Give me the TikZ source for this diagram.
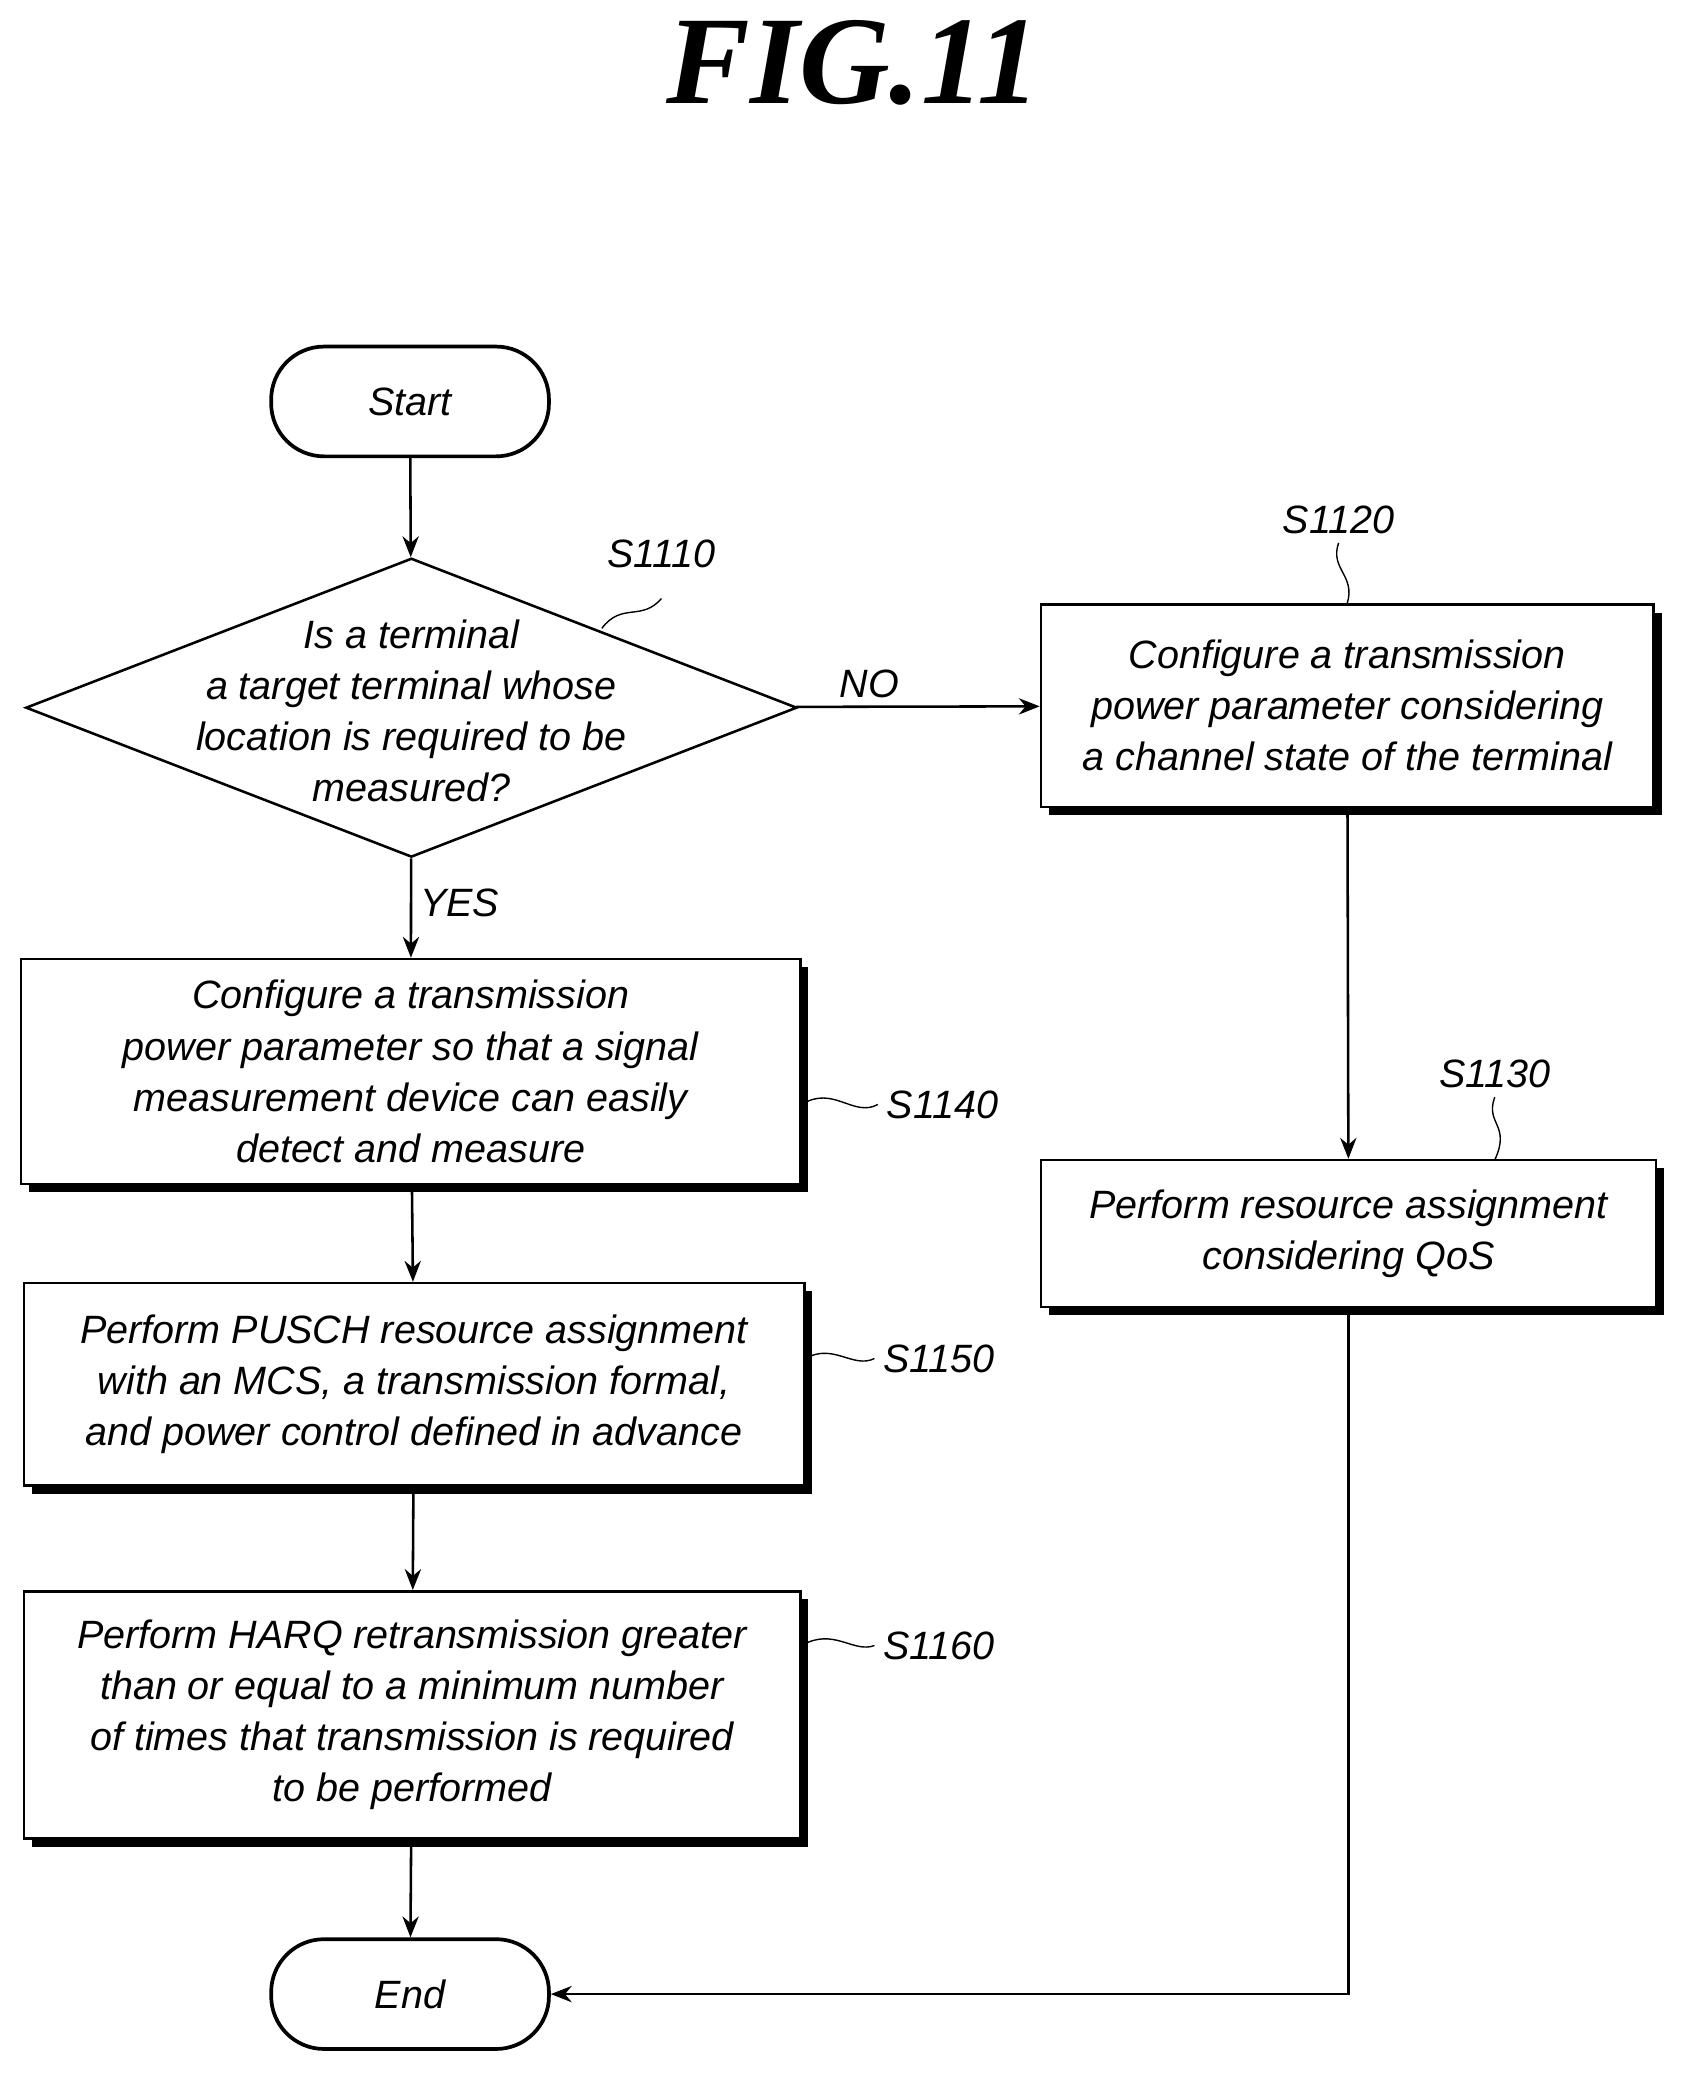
\documentclass[tikz,border=0pt]{standalone}
\usepackage{fontspec}
\setmainfont{Liberation Serif}
\setsansfont{Liberation Sans}
\usetikzlibrary{arrows.meta,shapes.geometric,shadows}

\begin{document}
\begin{tikzpicture}[>={Stealth[length=9pt,width=7pt]},line width=1.1pt]
            \tikzset{
              box/.style={rectangle,draw,fill=white,inner sep=2pt,align=center,
                font=\sffamily\itshape\fontsize{17}{22}\selectfont,
                drop shadow={fill=black,opacity=1,shadow xshift=3.5pt,shadow yshift=-3.5pt}},
              term/.style={rectangle,rounded corners=0.8cm,draw,line width=1.6pt,
                minimum width=4.2cm,minimum height=1.66cm,
                font=\sffamily\itshape\fontsize{17}{22}\selectfont},
              lbl/.style={font=\sffamily\itshape\fontsize{17}{22}\selectfont},
              squig/.style={line width=0.6pt}
            }
            \useasboundingbox (0,0) rectangle (25.6,-31.54);

            \node[font=\bfseries\itshape\fontsize{54}{54}\selectfont] (title) at (12.9,-0.95) {FIG.11};

            \node[term] (start) at (6.2,-6.07) {Start};
            \node[diamond,draw,inner sep=0pt,aspect=2.58,minimum width=11.66cm,minimum height=4.52cm] (S1110) at (6.22,-10.7) {};
            \node[lbl,align=center] (S1110-txt) at (6.22,-10.75) {Is a terminal\\a target terminal whose\\location is required to be\\measured?};
            \node[box,minimum width=9.26cm,minimum height=3.06cm] (S1120) at (20.37,-10.67) {Configure a transmission\\power parameter considering\\a channel state of the terminal};
            \node[box,minimum width=11.78cm,minimum height=3.4cm] (S1140) at (6.21,-16.2) {Configure a transmission\\power parameter so that a signal\\measurement device can easily\\detect and measure};
            \node[box,minimum width=11.8cm,minimum height=3.06cm] (S1150) at (6.26,-20.93) {Perform PUSCH resource assignment\\with an MCS, a transmission formal,\\and power control defined in advance};
            \node[box,minimum width=11.74cm,minimum height=3.74cm] (S1160) at (6.23,-25.93) {Perform HARQ retransmission greater\\than or equal to a minimum number\\of times that transmission is required\\to be performed};
            \node[box,minimum width=9.3cm,minimum height=2.22cm] (S1130) at (20.39,-18.65) {Perform resource assignment\\considering QoS};
            \node[term] (end) at (6.2,-30.15) {End};

            % step labels
            \node[lbl] (L1110) at (10.0,-8.38) {S1110};
            \node[lbl] (L1120) at (20.24,-7.86) {S1120};
            \node[lbl] (L1130) at (22.6,-16.24) {S1130};
            \node[lbl] (L1140) at (14.25,-16.7) {S1140};
            \node[lbl] (L1150) at (14.2,-20.54) {S1150};
            \node[lbl] (L1160) at (14.2,-24.88) {S1160};
            \draw[squig] (9.1,-9.5) .. controls (9.4,-9.1) and (9.7,-9.4) .. (10.0,-9.05);
            \draw[squig] (L1120.south) .. controls (20.1,-8.6) and (20.5,-8.7) .. (S1120.north);
            \draw[squig] (L1130.south) .. controls (22.45,-17.0) and (22.85,-17.0) .. (22.6,-17.54);
            \draw[squig] (S1140.east |- L1140) .. controls (12.6,-16.4) and (12.9,-16.9) .. (L1140.west);
            \draw[squig] (S1150.east |- L1150) .. controls (12.6,-20.3) and (12.9,-20.7) .. (L1150.west);
            \draw[squig] (S1160.east |- L1160) .. controls (12.6,-24.6) and (12.9,-25.0) .. (L1160.west);

            % flow
            \draw[->] (start) -- (S1110);
            \draw[->] (S1110) -- node[lbl,above,pos=0.3] {NO} (S1120);
            \draw[->] (S1110) -- node[lbl,right,pos=0.45] {YES} (S1140);
            \draw[->] (S1140) -- (S1150);
            \draw[->] (S1150) -- (S1160);
            \draw[->] (S1160) -- (end);
            \draw[->] (S1120) -- (S1130);
            \draw[->] (S1130.south) |- (end.east);
        \end{tikzpicture}
\end{document}
